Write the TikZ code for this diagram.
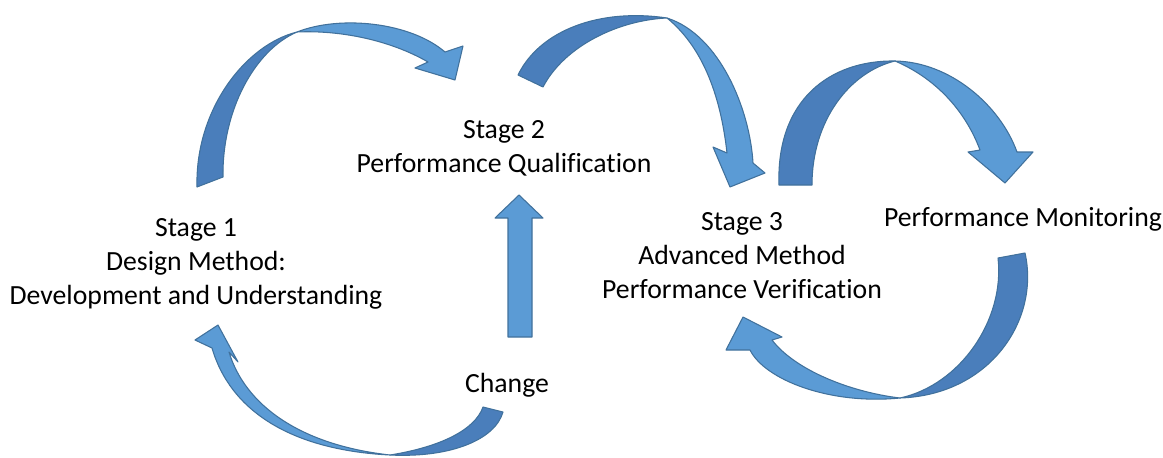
\documentclass[tikz,border=0pt]{standalone}
\usepackage{fontspec}
\setmainfont{Carlito}[Ligatures=NoCommon]
\definecolor{arrlight}{HTML}{5B9BD5}
\definecolor{arrdark}{HTML}{4A7EBB}
\definecolor{arrline}{HTML}{41719C}
\begin{document}
\begin{tikzpicture}[x=0.75pt,y=-0.75pt,
  lightpart/.style={fill=arrlight,draw=arrline,line width=0.8pt,line join=round},
  darkpart/.style={fill=arrdark,draw=arrline,line width=0.8pt,line join=round},
  lbl/.style={font=\fontsize{20.8}{25.5}\selectfont,align=center,inner sep=0pt}]
\useasboundingbox (0,0) rectangle (1163,457);

% labels
\node[lbl] (s2) at (504,148) {Stage 2\\Performance Qualification};
\node[lbl] (s1) at (196,264) {Stage 1\\Design Method:\\Development and Understanding};
\node[lbl] (s3) at (742,256) {Stage 3\\Advanced Method\\Performance Verification};
\node[lbl] (pm) at (1023,219) {Performance Monitoring};
\node[lbl] (ch) at (507,385) {Change};

% arrow 1: Stage 1 -> Stage 2
\path[darkpart] (197,187) .. controls (195,110) and (245,45) .. (297,32)
  .. controls (255,50) and (222,110) .. (223,177) -- cycle;
\path[lightpart] (297,32) .. controls (340,15) and (410,22) .. (445,52)
  -- (463,46) -- (455,80) -- (415,68) -- (428,62)
  .. controls (390,40) and (340,30) .. (297,32) -- cycle;

% arrow 2: Stage 2 -> Stage 3
\path[darkpart] (518,75) .. controls (540,30) and (600,8) .. (667,18)
  .. controls (620,20) and (565,45) .. (543,87) -- cycle;
\path[lightpart] (667,18) .. controls (720,35) and (750,110) .. (753,163)
  -- (765,173) -- (730,187) -- (713,147) -- (727,153)
  .. controls (720,90) and (700,45) .. (667,18) -- cycle;

% arrow 3: Stage 3 -> Performance Monitoring
\path[darkpart] (779,185) .. controls (776,100) and (830,60) .. (895,61)
  .. controls (850,72) and (812,120) .. (812,185) -- cycle;
\path[lightpart] (895,61) .. controls (950,62) and (1000,105) .. (1017,152)
  -- (1033,152) -- (1005,183) -- (968,152) -- (980,150)
  .. controls (965,110) and (935,78) .. (895,61) -- cycle;

% arrow 4: Performance Monitoring -> Stage 3
\path[darkpart] (1025,253) .. controls (1040,320) and (990,395) .. (900,398)
  .. controls (960,385) and (1005,320) .. (998,258) -- cycle;
\path[lightpart] (900,398) .. controls (830,405) and (765,380) .. (750,350)
  -- (726,350) -- (743,317) -- (782,337) -- (772,340)
  .. controls (795,370) and (850,392) .. (900,398) -- cycle;

% arrow 5: Change -> Stage 1
\path[darkpart] (390,455) .. controls (450,458) and (495,440) .. (503,412)
  -- (483,407) .. controls (475,430) and (440,447) .. (390,455) -- cycle;
\path[lightpart] (390,455) .. controls (300,445) and (245,405) .. (229,352)
  -- (238,362) -- (218,325) -- (195,340) -- (212,348)
  .. controls (230,410) and (290,450) .. (390,455) -- cycle;

% arrow 6: Change -> Stage 2
\path[lightpart] (508,337) -- (508,218) -- (495,218) -- (519,195)
  -- (543,218) -- (532,218) -- (532,337) -- cycle;
\end{tikzpicture}
\end{document}
